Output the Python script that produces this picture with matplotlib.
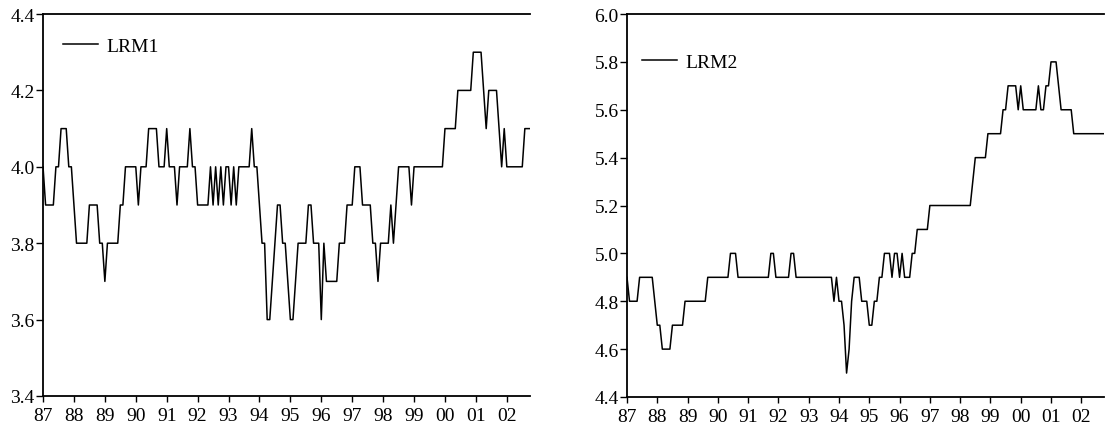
"""Two EViews-style monthly line panels: LRM1 and LRM2, 1987M01-2002M10."""
import matplotlib
matplotlib.use("Agg")
import matplotlib.pyplot as plt
import numpy as np

plt.rcParams["font.family"] = ["Liberation Serif", "DejaVu Serif"]

start_year = 1987
year_ticks = list(range(1987, 2003))
year_labels = ["87", "88", "89", "90", "91", "92", "93", "94",
               "95", "96", "97", "98", "99", "00", "01", "02"]

# monthly values, one row per year
lrm1 = [
    4.0, 3.9, 3.9, 3.9, 3.9, 4.0, 4.0, 4.1, 4.1, 4.1, 4.0, 4.0,  # 87
    3.9, 3.8, 3.8, 3.8, 3.8, 3.8, 3.9, 3.9, 3.9, 3.9, 3.8, 3.8,  # 88
    3.7, 3.8, 3.8, 3.8, 3.8, 3.8, 3.9, 3.9, 4.0, 4.0, 4.0, 4.0,  # 89
    4.0, 3.9, 4.0, 4.0, 4.0, 4.1, 4.1, 4.1, 4.1, 4.0, 4.0, 4.0,  # 90
    4.1, 4.0, 4.0, 4.0, 3.9, 4.0, 4.0, 4.0, 4.0, 4.1, 4.0, 4.0,  # 91
    3.9, 3.9, 3.9, 3.9, 3.9, 4.0, 3.9, 4.0, 3.9, 4.0, 3.9, 4.0,  # 92
    4.0, 3.9, 4.0, 3.9, 4.0, 4.0, 4.0, 4.0, 4.0, 4.1, 4.0, 4.0,  # 93
    3.9, 3.8, 3.8, 3.6, 3.6, 3.7, 3.8, 3.9, 3.9, 3.8, 3.8, 3.7,  # 94
    3.6, 3.6, 3.7, 3.8, 3.8, 3.8, 3.8, 3.9, 3.9, 3.8, 3.8, 3.8,  # 95
    3.6, 3.8, 3.7, 3.7, 3.7, 3.7, 3.7, 3.8, 3.8, 3.8, 3.9, 3.9,  # 96
    3.9, 4.0, 4.0, 4.0, 3.9, 3.9, 3.9, 3.9, 3.8, 3.8, 3.7, 3.8,  # 97
    3.8, 3.8, 3.8, 3.9, 3.8, 3.9, 4.0, 4.0, 4.0, 4.0, 4.0, 3.9,  # 98
    4.0, 4.0, 4.0, 4.0, 4.0, 4.0, 4.0, 4.0, 4.0, 4.0, 4.0, 4.0,  # 99
    4.1, 4.1, 4.1, 4.1, 4.1, 4.2, 4.2, 4.2, 4.2, 4.2, 4.2, 4.3,  # 00
    4.3, 4.3, 4.3, 4.2, 4.1, 4.2, 4.2, 4.2, 4.2, 4.1, 4.0, 4.1,  # 01
    4.0, 4.0, 4.0, 4.0, 4.0, 4.0, 4.0, 4.1, 4.1, 4.1,            # 02
]

lrm2 = [
    4.9, 4.8, 4.8, 4.8, 4.8, 4.9, 4.9, 4.9, 4.9, 4.9, 4.9, 4.8,  # 87
    4.7, 4.7, 4.6, 4.6, 4.6, 4.6, 4.7, 4.7, 4.7, 4.7, 4.7, 4.8,  # 88
    4.8, 4.8, 4.8, 4.8, 4.8, 4.8, 4.8, 4.8, 4.9, 4.9, 4.9, 4.9,  # 89
    4.9, 4.9, 4.9, 4.9, 4.9, 5.0, 5.0, 5.0, 4.9, 4.9, 4.9, 4.9,  # 90
    4.9, 4.9, 4.9, 4.9, 4.9, 4.9, 4.9, 4.9, 4.9, 5.0, 5.0, 4.9,  # 91
    4.9, 4.9, 4.9, 4.9, 4.9, 5.0, 5.0, 4.9, 4.9, 4.9, 4.9, 4.9,  # 92
    4.9, 4.9, 4.9, 4.9, 4.9, 4.9, 4.9, 4.9, 4.9, 4.9, 4.8, 4.9,  # 93
    4.8, 4.8, 4.7, 4.5, 4.6, 4.8, 4.9, 4.9, 4.9, 4.8, 4.8, 4.8,  # 94
    4.7, 4.7, 4.8, 4.8, 4.9, 4.9, 5.0, 5.0, 5.0, 4.9, 5.0, 5.0,  # 95
    4.9, 5.0, 4.9, 4.9, 4.9, 5.0, 5.0, 5.1, 5.1, 5.1, 5.1, 5.1,  # 96
    5.2, 5.2, 5.2, 5.2, 5.2, 5.2, 5.2, 5.2, 5.2, 5.2, 5.2, 5.2,  # 97
    5.2, 5.2, 5.2, 5.2, 5.2, 5.3, 5.4, 5.4, 5.4, 5.4, 5.4, 5.5,  # 98
    5.5, 5.5, 5.5, 5.5, 5.5, 5.6, 5.6, 5.7, 5.7, 5.7, 5.7, 5.6,  # 99
    5.7, 5.6, 5.6, 5.6, 5.6, 5.6, 5.6, 5.7, 5.6, 5.6, 5.7, 5.7,  # 00
    5.8, 5.8, 5.8, 5.7, 5.6, 5.6, 5.6, 5.6, 5.6, 5.5, 5.5, 5.5,  # 01
    5.5, 5.5, 5.5, 5.5, 5.5, 5.5, 5.5, 5.5, 5.5, 5.5,            # 02
]

lrm1_yticks = [3.4, 3.6, 3.8, 4.0, 4.2, 4.4]
lrm2_yticks = [4.4, 4.6, 4.8, 5.0, 5.2, 5.4, 5.6, 5.8, 6.0]


def style_panel(ax, t, yticks):
    ax.set_xlim(t[0], t[-1])
    ax.set_ylim(yticks[0], yticks[-1])
    ax.set_xticks(year_ticks)
    ax.set_xticklabels(year_labels)
    ax.set_yticks(yticks)
    ax.set_yticklabels([f"{v:.1f}" for v in yticks])
    ax.spines["right"].set_visible(False)
    for s in ("left", "bottom", "top"):
        ax.spines[s].set_linewidth(1.3)
    ax.tick_params(axis="y", direction="out", length=5, width=1.0,
                   pad=1, labelsize=14)
    ax.tick_params(axis="x", direction="out", length=4, width=1.0,
                   pad=4, labelsize=14)


fig = plt.figure(figsize=(11.06, 4.39), dpi=100)
ax1 = fig.add_axes([0.0389, 0.0957, 0.4403, 0.8701])
ax2 = fig.add_axes([0.5669, 0.0934, 0.4313, 0.8724])

t1 = start_year + np.arange(len(lrm1)) / 12.0
t2 = start_year + np.arange(len(lrm2)) / 12.0

ax1.plot(t1, lrm1, color="black", lw=1.1, label="LRM1")
ax2.plot(t2, lrm2, color="black", lw=1.1, label="LRM2")

style_panel(ax1, t1, lrm1_yticks)
style_panel(ax2, t2, lrm2_yticks)

legend_anchor = {ax1: (0.041, 0.916), ax2: (0.031, 0.875)}
for ax, anchor in legend_anchor.items():
    ax.legend(loc="center left", frameon=False, fontsize=14,
              handlelength=1.8, handletextpad=0.45,
              borderpad=0, borderaxespad=0, bbox_to_anchor=anchor)

fig.savefig("out.png", dpi=100)
plt.close(fig)
